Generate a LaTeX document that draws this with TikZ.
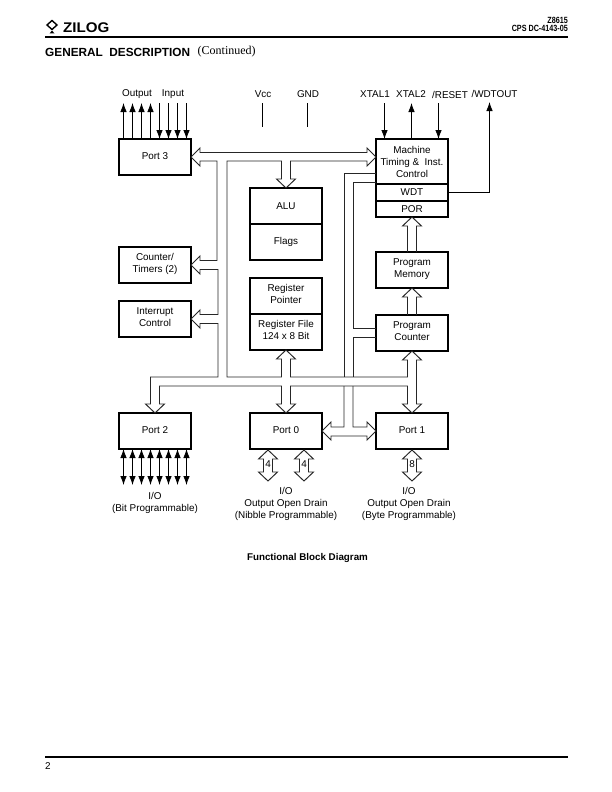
\documentclass[tikz,border=0pt]{standalone}
\usepackage{fontspec}
\setmainfont{Liberation Sans}
\newfontfamily\serifface{Liberation Serif}
\usetikzlibrary{calc}
\usetikzlibrary{arrows.meta}

\tikzset{
  block/.style={draw, line width=1.4pt, minimum width=72pt, minimum height=36pt, inner sep=0pt, outer sep=0pt, align=center, font=\fontsize{9.9}{12}\selectfont},
  twoline/.style={text depth=4pt},
  oneline/.style={text depth=2pt},
  label/.style={inner sep=0pt, align=center, font=\fontsize{9.9}{12}\selectfont},
  bus/.style={draw=black!85, line width=0.95pt, line join=miter},
  wire/.style={line width=0.8pt},
  pin/.style={line width=0.8pt, -{Latex[length=9pt,width=6.5pt]}},
  pinboth/.style={line width=0.8pt, {Latex[length=9pt,width=6.5pt]}-{Latex[length=9pt,width=6.5pt]}},
  rule/.style={line width=1.5pt}
}

% hollow arrow, shaft from #1 up to the tip at #2
\newcommand{\busup}[2]{
  \draw[bus] ([xshift=-4.5pt]#1) -- ([shift={(-4.5,9)}]#2) -- ([shift={(-9.5,9)}]#2) -- (#2)
    -- ([shift={(9.5,9)}]#2) -- ([shift={(4.5,9)}]#2) -- ([xshift=4.5pt]#1);
}
% hollow arrow with two tips, #1 upper tip, #2 lower tip, #3 its width count
\newcommand{\busio}[3]{
  \draw[bus] (#1) -- ([shift={(9.5,9)}]#1) -- ([shift={(4.5,9)}]#1) -- ([shift={(4.5,-9)}]#2)
    -- ([shift={(9.5,-9)}]#2) -- (#2) -- ([shift={(-9.5,-9)}]#2) -- ([shift={(-4.5,-9)}]#2)
    -- ([shift={(-4.5,9)}]#1) -- ([shift={(-9.5,9)}]#1) -- cycle;
  \node[label] at ($(#1)!0.45!(#2)$) {#3};
}

\begin{document}
\begin{tikzpicture}[x=1pt, y=-1pt]
\useasboundingbox (0,0) rectangle (612,792);

% page furniture
\draw[rule] (45,37) -- (568,37);
\draw[rule] (45,757) -- (568,757);
\node[anchor=west, inner sep=0pt, font=\fontsize{14}{14}\bfseries\selectfont] (zilog) at (63,28) {\scalebox{1.08}[1]{ZILOG}};
\draw[line width=1.4pt] (47,25) -- (52,20.5) -- (57,25) -- (52,29.5) -- cycle;
\fill (49.5,33.5) -- (54.5,33.5) -- (52,30.5) -- cycle;
\node[anchor=east, inner sep=0pt, align=right, font=\fontsize{9}{9}\bfseries\selectfont] (docno) at (568,24.5) {\scalebox{0.8}[1]{Z8615}\\[-1.5pt]\scalebox{0.8}[1]{CPS DC-4143-05}};
\node[anchor=west, inner sep=0pt, font=\fontsize{11.8}{12}\bfseries\selectfont] (title) at (45,52) {GENERAL\ \ DESCRIPTION};
\node[anchor=west, inner sep=0pt, font=\fontsize{12}{12}\serifface\selectfont] (cont) at (197.5,52) {(Continued)};
\node[anchor=west, label] (pageno) at (45,766) {2};
\node[inner sep=0pt, font=\fontsize{9.8}{12}\bfseries\selectfont] (caption) at (307.5,558) {Functional Block Diagram};

% blocks
\node[block, oneline] (port3) at (155,157) {Port 3};
\node[block, twoline] (counter) at (155,265) {Counter/\\Timers (2)};
\node[block, twoline] (interrupt) at (155,319) {Interrupt\\Control};
\node[block, oneline] (port2) at (155,431) {Port 2};
\node[block] (alu) at (286,206) {ALU};
\node[block] (flags) at (286,242) {Flags};
\node[block, twoline] (regptr) at (286,296) {Register\\Pointer};
\node[block, twoline] (regfile) at (286,332) {Register File\\124 x 8 Bit};
\node[block, oneline] (port0) at (286,431) {Port 0};
\node[block, minimum height=45pt] (machine) at (412,161.5) {Machine\\Timing \&\ \ Inst.\\Control};
\node[block, minimum height=17pt] (wdt) at (412,192.5) {WDT};
\node[block, minimum height=16pt] (por) at (412,209) {POR};
\node[block, twoline] (progmem) at (412,270) {Program\\Memory};
\node[block, twoline] (progcnt) at (412,333) {Program\\Counter};
\node[block, oneline] (port1) at (412,431) {Port 1};

% pin names
\node[label] (output) at (137,94.5) {Output};
\node[label] (input) at (173,94.5) {Input};
\node[label] (vcc) at (263,94.5) {Vcc};
\node[label] (gnd) at (308,94.5) {GND};
\node[label] (xtal1) at (375,94.5) {XTAL1};
\node[label] (xtal2) at (411,94.5) {XTAL2};
\node[label] (reset) at (450,94.5) {/RESET};
\node[label] (wdtout) at (494.5,93.5) {/WDTOUT};
\node[label] (io2) at (155,502.5) {I/O\\(Bit Programmable)};
\node[label] (io0) at (286,503.5) {I/O\\Output Open Drain\\(Nibble Programmable)};
\node[label] (io1) at (409,503.5) {I/O\\Output Open Drain\\(Byte Programmable)};

% port 3 pins
\foreach \px in {123.5,132.5,141.5,150.5}
  \draw[pin] (\px,0 |- port3.north) -- (\px,103);
\foreach \px in {159.5,168.5,177.5,186.5}
  \draw[pin] (\px,103) -- (\px,0 |- port3.north);

% port 2 pins
\foreach \px in {123.5,132.5,141.5,150.5,159.5,168.5,177.5,186.5}
  \draw[pinboth] (\px,0 |- port2.south) -- (\px,485);

% supply and clock lines
\coordinate (vcctop) at (262.5,103);
\coordinate (gndtop) at (307.5,103);
\coordinate (x1top) at (384.5,103);
\coordinate (x2top) at (411.5,103);
\coordinate (rsttop) at (438.5,103);
\coordinate (wdttop) at (489.5,102);
\draw[wire] (vcctop) -- ++(0,24);
\draw[wire] (gndtop) -- ++(0,24);
\draw[pin] (x1top) -- (x1top |- machine.north);
\draw[pin] (x2top |- machine.north) -- (x2top);
\draw[pin] (rsttop) -- (rsttop |- machine.north);
\draw[pin] (wdt.east) -| (wdttop);

% main bus outline
\draw[bus] (port3.east) -- (200,148) -- (200,152.5) -- (367,152.5) -- (367,148) -- (376,157)
  -- (367,166) -- (367,161) -- (290.5,161) -- (290.5,179) -- (295.5,179) -- (alu.north)
  -- (276.5,179) -- (281.5,179) -- (281.5,161) -- (227,161) -- (227,377) -- (281.5,377)
  -- (281.5,359) -- (276.5,359) -- (regfile.south) -- (295.5,359) -- (290.5,359) -- (290.5,377)
  -- (407.5,377) -- (407.5,360) -- (402.5,360) -- (progcnt.south) -- (421.5,360) -- (416.5,360)
  -- (416.5,404) -- (421.5,404) -- (port1.north) -- (402.5,404) -- (407.5,404) -- (407.5,386)
  -- (290.5,386) -- (290.5,404) -- (295.5,404) -- (port0.north) -- (276.5,404) -- (281.5,404)
  -- (281.5,386) -- (159.5,386) -- (159.5,404) -- (164.5,404) -- (port2.north) -- (145.5,404)
  -- (150.5,404) -- (150.5,377) -- (218,377) -- (218,323.5) -- (200,323.5) -- (200,328)
  -- (interrupt.east) -- (200,310) -- (200,314.5) -- (218,314.5) -- (218,269.5) -- (200,269.5)
  -- (200,274) -- (counter.east) -- (200,256) -- (200,260.5) -- (217,260.5) -- (217,161)
  -- (200,161) -- (200,166) -- cycle;

% port 0 to port 1 branch
\draw[bus] (344,386) -- (344,427) -- (331,427) -- (331,422) -- (port0.east) -- (331,440)
  -- (331,436) -- (367,436) -- (367,440) -- (port1.west) -- (367,422) -- (367,427)
  -- (353,427) -- (353,386);

% control lines from the machine block and program counter
\coordinate (ctrla) at (344,173);
\coordinate (ctrlb) at (353,182);
\coordinate (ctrlc) at (353,328);
\coordinate (ctrld) at (353,337);
\draw[bus] (ctrla -| machine.west) -- (ctrla) -- (344,377);
\draw[bus] (ctrlb -| machine.west) -- (ctrlb) -- (ctrlc) -- (ctrlc -| progcnt.west);
\draw[bus] (ctrld -| progcnt.west) -- (ctrld) -- (353,377);

% short hollow arrows
\busup{progmem.north}{por.south}
\busup{progcnt.north}{progmem.south}
\coordinate (p0au) at (268,450);
\coordinate (p0ad) at (268,481);
\coordinate (p0bu) at (304,450);
\coordinate (p0bd) at (304,481);
\coordinate (p1u) at (412,450);
\coordinate (p1d) at (412,481);
\busio{p0au}{p0ad}{4}
\busio{p0bu}{p0bd}{4}
\busio{p1u}{p1d}{8}

\end{tikzpicture}
\end{document}
